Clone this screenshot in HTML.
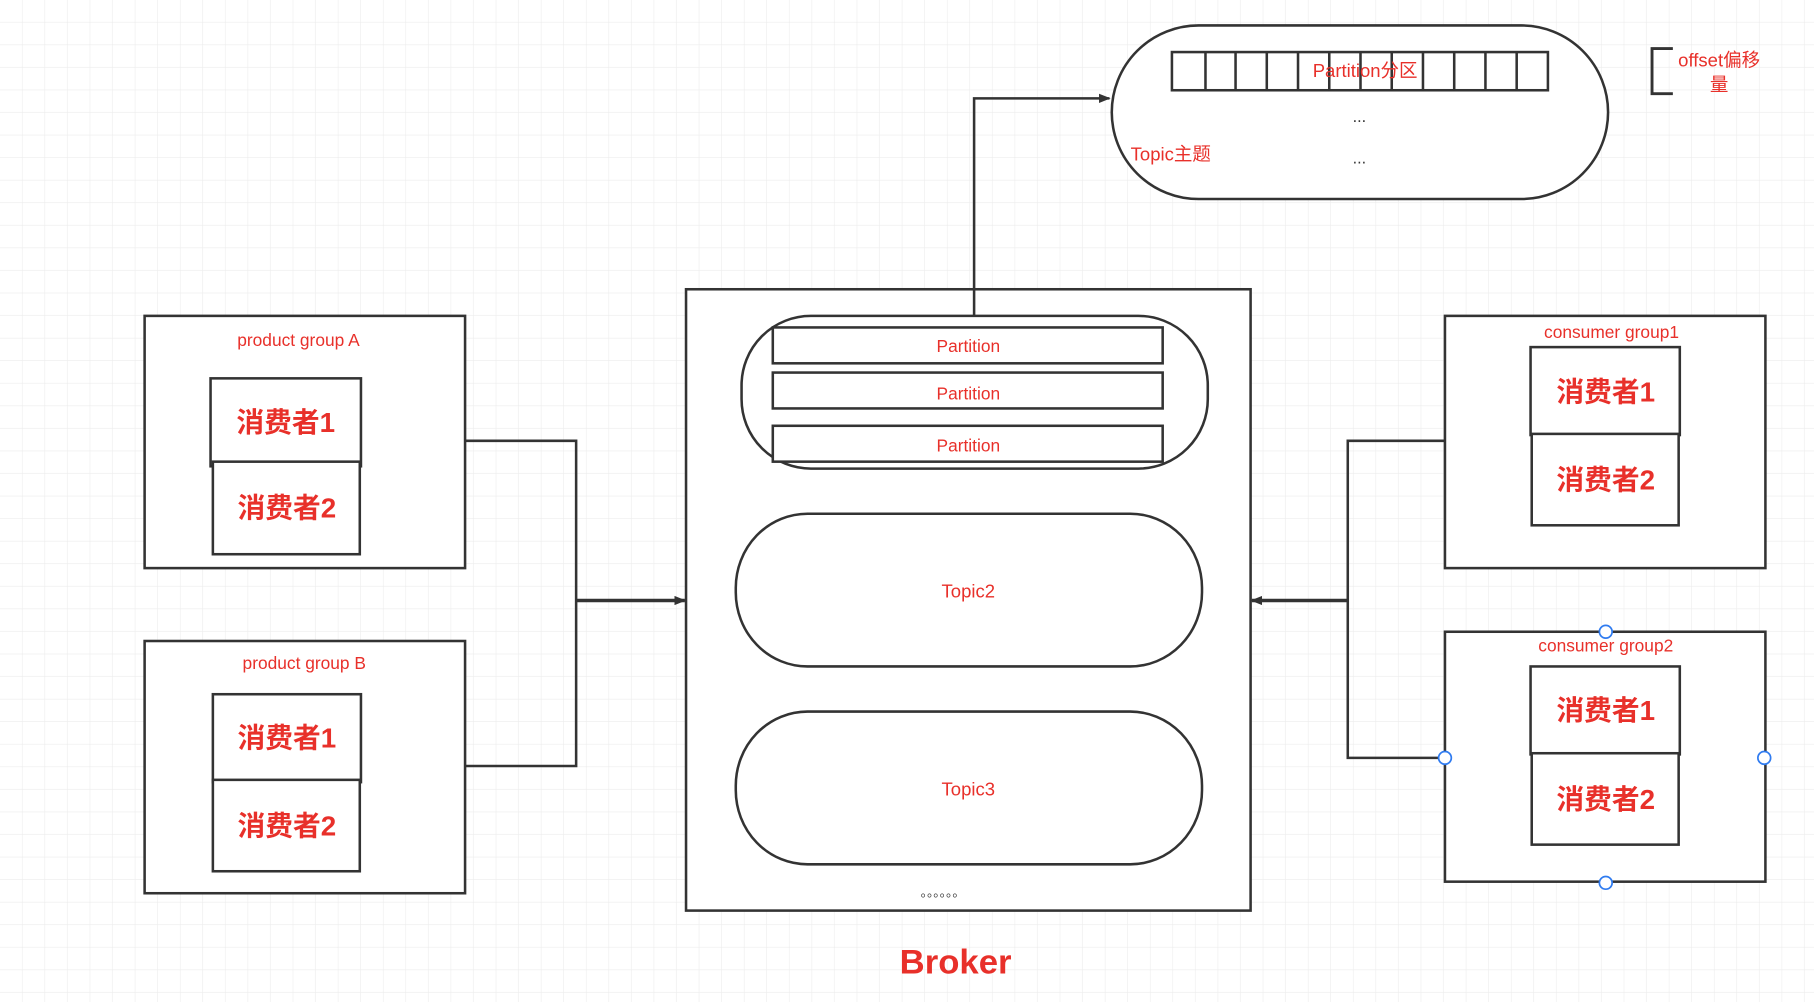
<!DOCTYPE html>
<html><head><meta charset="utf-8"><style>
html,body{margin:0;padding:0;background:#fff}
svg{display:block}
text{font-family:"Liberation Sans","Noto Sans CJK SC",sans-serif;fill:#e8302a;text-anchor:middle;dominant-baseline:central}
</style></head><body>
<svg width="1814" height="1002" viewBox="0 0 1568 866" preserveAspectRatio="none" xmlns="http://www.w3.org/2000/svg">
<defs>
<pattern id="g" width="19.5" height="19.5" patternUnits="userSpaceOnUse"><path d="M19.5 0V19.5H0" fill="none" stroke="#ececec" stroke-width="1"/></pattern>
<marker id="a" markerWidth="10" markerHeight="8" refX="9" refY="4" orient="auto" markerUnits="userSpaceOnUse"><path d="M0 0L10 4L0 8z" fill="#333"/></marker>
</defs>
<rect width="1568" height="866" fill="url(#g)"/>
<g fill="#fff" stroke="#333" stroke-width="2.2">
<!-- product groups -->
<rect x="125" y="273" width="277" height="218"/>
<rect x="182" y="327" width="130" height="76"/>
<rect x="184" y="399" width="127" height="80"/>
<rect x="125" y="554" width="277" height="218"/>
<rect x="184" y="600" width="128" height="76"/>
<rect x="184" y="674" width="127" height="79"/>
<!-- broker -->
<rect x="593" y="250" width="488" height="537"/>
<rect x="641" y="273" width="403" height="132" rx="60" ry="60"/>
<rect x="668" y="283" width="337" height="31"/>
<rect x="668" y="322" width="337" height="31"/>
<rect x="668" y="368" width="337" height="31"/>
<rect x="636" y="444" width="403" height="132" rx="62" ry="64"/>
<rect x="636" y="615" width="403" height="132" rx="62" ry="64"/>
<!-- top topic -->
<rect x="961" y="22" width="429" height="150" rx="75" ry="75"/>
<rect x="1013" y="45" width="325" height="33"/>
<!-- consumer groups -->
<rect x="1249" y="273" width="277" height="218"/>
<rect x="1323" y="300" width="129" height="76"/>
<rect x="1324" y="375" width="127" height="79"/>
<rect x="1249" y="546" width="277" height="216"/>
<rect x="1323" y="576" width="129" height="76"/>
<rect x="1324" y="651" width="127" height="79"/>
</g>
<g fill="none" stroke="#333" stroke-width="2.2">
<path d="M1042 45V78M1068 45V78M1095 45V78M1122 45V78M1149 45V78M1176 45V78M1203 45V78M1230 45V78M1257 45V78M1284 45V78M1311 45V78"/>
<path d="M402 381H498V662H402"/>
<path d="M498 519H592" stroke-width="3" marker-end="url(#a)"/>
<path d="M842 273V85H959" marker-end="url(#a)"/>
<path d="M1249 381H1165V655H1249"/>
<path d="M1165 519H1082" stroke-width="3" marker-end="url(#a)"/>
<path d="M1446 42H1428V81H1446" stroke-width="2.5"/>
</g>
<g fill="#fff" stroke="#2f7bf0" stroke-width="1.5">
<circle cx="1388" cy="546" r="5.5"/><circle cx="1249" cy="655" r="5.5"/>
<circle cx="1525" cy="655" r="5.5"/><circle cx="1388" cy="763" r="5.5"/>
</g>
<g font-size="15">
<text x="258" y="294">product group A</text>
<text x="263" y="573">product group B</text>
<text x="1393" y="287">consumer group1</text>
<text x="1388" y="558">consumer group2</text>
<text x="837" y="299">Partition</text>
<text x="837" y="340">Partition</text>
<text x="837" y="385">Partition</text>
<text x="837" y="511" font-size="16">Topic2</text>
<text x="837" y="682" font-size="16">Topic3</text>
<text x="1180" y="61" font-size="16">Partition分区</text>
<text x="1012" y="133" font-size="16">Topic主题</text>
<text x="1486" y="52" font-size="16">offset偏移</text>
<text x="1486" y="73" font-size="16">量</text>
</g>
<g font-size="14" style="fill:#333">
<text x="1175" y="101" style="fill:#333">...</text>
<text x="1175" y="137" style="fill:#333">...</text>
<text x="815" y="771" style="fill:#333" font-size="11">。。。。。。</text>
</g>
<g font-size="24" font-weight="bold">
<text x="247" y="365">消费者1</text>
<text x="248" y="439">消费者2</text>
<text x="248" y="638">消费者1</text>
<text x="248" y="714">消费者2</text>
<text x="1388" y="339">消费者1</text>
<text x="1388" y="415">消费者2</text>
<text x="1388" y="614">消费者1</text>
<text x="1388" y="691">消费者2</text>
</g>
<text x="826" y="832" font-size="30" font-weight="bold">Broker</text>
</svg>
</body></html>
